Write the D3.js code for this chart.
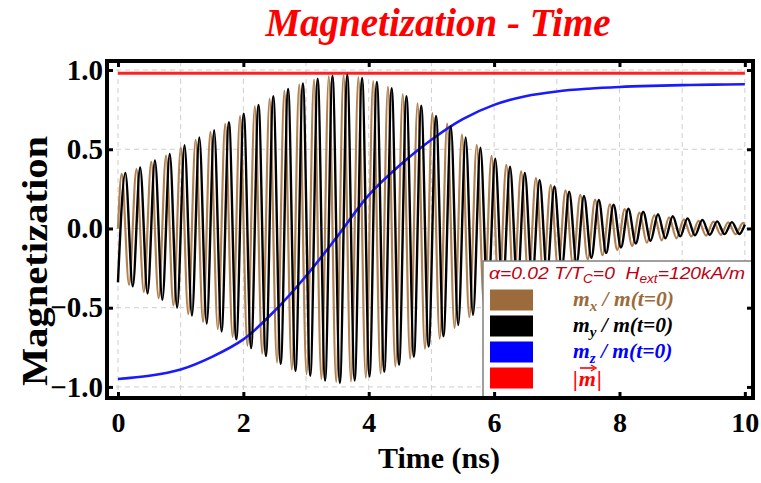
<!DOCTYPE html>
<html>
<head>
<meta charset="utf-8">
<script src="https://cdn.jsdelivr.net/npm/d3@7"></script>
<style>
  html, body { margin: 0; padding: 0; background: #fff; }
  svg { display: block; }
  text { white-space: pre; }
</style>
</head>
<body>
<svg id="chart" width="761" height="483"></svg>
<script>
// ---- data ----------------------------------------------------------
// Precession half-period (ns): extrema of m_y sit at k*halfPeriod,
// extrema of m_x sit a quarter period later.
const halfPeriod = 0.118;

// m_y / m(t=0): successive extrema (trough, peak, trough, ...)
const myExtrema = [
  -0.34, 0.35, -0.365, 0.385, -0.41, 0.43, -0.45, 0.47, -0.50, 0.525,
  -0.55, 0.575, -0.60, 0.62, -0.65, 0.67, -0.70, 0.725, -0.755, 0.78,
  -0.805, 0.835, -0.855, 0.88, -0.90, 0.915, -0.93, 0.945, -0.96, 0.965,
  -0.975, 0.97, -0.96, 0.95, -0.935, 0.925, -0.905, 0.885, -0.86, 0.835,
  -0.81, 0.775, -0.745, 0.71, -0.68, 0.645, -0.61, 0.575, -0.545, 0.51,
  -0.475, 0.44, -0.415, 0.39, -0.37, 0.35, -0.33, 0.305, -0.285, 0.265,
  -0.25, 0.232, -0.22, 0.205, -0.185, 0.18, -0.155, 0.15, -0.12, 0.125,
  -0.095, 0.105, -0.078, 0.09, -0.062, 0.077, -0.05, 0.064, -0.043, 0.054,
  -0.04, 0.045, -0.036, 0.04, -0.035
];
const myEnd = 0.025;

// m_x / m(t=0): starts at zero, then successive extrema (peak, trough, ...)
const mxStart = 0.0;
const mxExtrema = [
  0.345, -0.355, 0.375, -0.40, 0.42, -0.44, 0.46, -0.485, 0.51, -0.54,
  0.56, -0.59, 0.61, -0.635, 0.66, -0.685, 0.71, -0.74, 0.77, -0.79,
  0.82, -0.845, 0.87, -0.89, 0.91, -0.92, 0.94, -0.95, 0.962, -0.97,
  0.972, -0.965, 0.955, -0.942, 0.93, -0.915, 0.895, -0.87, 0.848, -0.822,
  0.79, -0.76, 0.728, -0.695, 0.662, -0.628, 0.592, -0.56, 0.528, -0.492,
  0.458, -0.428, 0.402, -0.38, 0.36, -0.34, 0.318, -0.295, 0.275, -0.258,
  0.24, -0.226, 0.212, -0.195, 0.182, -0.168, 0.152, -0.135, 0.122, -0.11,
  0.10, -0.09, 0.084, -0.075, 0.07, -0.062, 0.057, -0.05, 0.048, -0.045,
  0.043, -0.04, 0.038, -0.036, 0.035
];
const mxEnd = 0.03;

// m_z / m(t=0)
const mzTime  = [0, 0.5, 1, 1.5, 2, 2.5, 3, 3.5, 4, 4.5, 5, 5.5, 6, 6.5, 7, 7.5, 8, 8.5, 9, 9.5, 10];
const mzValue = [-0.95, -0.93, -0.89, -0.81, -0.70, -0.52, -0.30, -0.05, 0.21, 0.40, 0.56,
                 0.69, 0.78, 0.835, 0.865, 0.882, 0.893, 0.90, 0.905, 0.908, 0.91];

// |m|
const magTime  = [0, 10];
const magValue = [0.98, 0.98];

const xTicks = [0, 2, 4, 6, 8, 10];
const yTicks = [-1.0, -0.5, 0.0, 0.5, 1.0];
const xGrid = d3.range(0, 11, 1);
const yGrid = [-1.0, -0.5, 0.0, 0.5, 1.0];

const legendItems = [
  { sub: "x", color: "#9c6b3c" },
  { sub: "y", color: "#000000" },
  { sub: "z", color: "#0000ff" },
  { sub: null, color: "#ff0000" }
];

// ---- build point series -------------------------------------------
const tEnd = 10;
const mySeries = myExtrema.map((v, k) => [k * halfPeriod, v]);
mySeries.push([tEnd, myEnd]);
const mxSeries = [[0, mxStart]].concat(mxExtrema.map((v, k) => [(k + 0.5) * halfPeriod, v]));
mxSeries.push([tEnd, mxEnd]);
const mzSeries = mzTime.map((t, i) => [t, mzValue[i]]);
const magSeries = magTime.map((t, i) => [t, magValue[i]]);

// ---- layout ---------------------------------------------------------
const svg = d3.select("#chart");
const L = 107, R = 753, T = 61, B = 398;
const x = d3.scaleLinear().domain([-0.175, 10.13]).range([L, R]);
const y = d3.scaleLinear().domain([-1.07, 1.057]).range([B, T]);

const serif = "'Liberation Serif', 'Times New Roman', serif";

// title
svg.append("text")
  .attr("x", 438).attr("y", 36)
  .attr("text-anchor", "middle")
  .style("font-family", serif).style("font-size", "39px")
  .style("font-weight", "bold").style("font-style", "italic")
  .attr("fill", "#ff0000")
  .text("Magnetization - Time");

// grid
const grid = svg.append("g").attr("stroke", "#cfcfcf").attr("stroke-width", 1)
  .attr("stroke-dasharray", "5,4");
grid.selectAll(".gx").data(xGrid).join("line")
  .attr("x1", d => x(d)).attr("x2", d => x(d)).attr("y1", T).attr("y2", B);
grid.selectAll(".gy").data(yGrid).join("line")
  .attr("x1", L).attr("x2", R).attr("y1", d => y(d)).attr("y2", d => y(d));

// curves
const line = d3.line().x(d => x(d[0])).y(d => y(d[1]));
const osc = d3.line().x(d => x(d[0])).y(d => y(d[1])).curve(d3.curveMonotoneX);
const smooth = d3.line().x(d => x(d[0])).y(d => y(d[1])).curve(d3.curveCatmullRom.alpha(0.5));

svg.append("path").datum(magSeries).attr("d", line)
  .attr("fill", "none").attr("stroke", "#ff2020").attr("stroke-width", 3);
svg.append("path").datum(mxSeries).attr("d", osc)
  .attr("fill", "none").attr("stroke", "#b08050").attr("stroke-width", 2.2);
svg.append("path").datum(mzSeries).attr("d", smooth)
  .attr("fill", "none").attr("stroke", "#1a1aff").attr("stroke-width", 2.6);
svg.append("path").datum(mySeries).attr("d", osc)
  .attr("fill", "none").attr("stroke", "#000000").attr("stroke-width", 2.4);

// legend
const lg = svg.append("g");
const lgX = 483, lgY = 261;
lg.append("rect").attr("x", lgX).attr("y", lgY).attr("width", R - lgX).attr("height", B - lgY)
  .attr("fill", "#fff").attr("stroke", "#808080").attr("stroke-width", 1.5);

const head = lg.append("text").attr("x", 489).attr("y", 279)
  .attr("textLength", 256).attr("lengthAdjust", "spacingAndGlyphs")
  .style("font-family", "'Liberation Sans', Arial, sans-serif")
  .style("font-size", "17px").style("font-style", "italic")
  .attr("fill", "#c00010");
head.append("tspan").text("α=0.02 T/T");
head.append("tspan").attr("dy", 4).style("font-size", "12px").text("C");
head.append("tspan").attr("dy", -4).text("=0  H");
head.append("tspan").attr("dy", 4).style("font-size", "12px").text("ext");
head.append("tspan").attr("dy", -4).text("=120kA/m");

legendItems.forEach((it, i) => {
  const cy = 300 + i * 26;
  lg.append("rect").attr("x", 490).attr("y", cy - 10.5).attr("width", 43).attr("height", 21)
    .attr("fill", it.color);
  const bx = 573, by = cy + 6;
  if (it.sub) {
    const t = lg.append("text").attr("x", bx).attr("y", by)
      .style("font-family", serif).style("font-size", "21.5px")
      .style("font-weight", "bold").style("font-style", "italic")
      .attr("fill", it.color);
    t.append("tspan").text("m");
    t.append("tspan").attr("dy", 5).style("font-size", "15px").text(it.sub);
    t.append("tspan").attr("dy", -5).text(" / m(t=0)");
  } else {
    const g = lg.append("g");
    const st = s => g.append("text").attr("y", by + 2)
      .style("font-family", serif).style("font-size", "22px")
      .style("font-weight", "bold").style("font-style", "italic")
      .attr("fill", it.color).text(s);
    const a = st("|").attr("x", bx);
    const wa = a.node().getComputedTextLength();
    const m = st("m").attr("x", bx + wa + 1);
    const wm = m.node().getComputedTextLength();
    st("|").attr("x", bx + wa + 1 + wm + 1);
    const ay = by - 16, ax0 = bx + wa + 2, ax1 = bx + wa + wm + 1;
    g.append("line").attr("x1", ax0).attr("x2", ax1 - 2).attr("y1", ay).attr("y2", ay)
      .attr("stroke", it.color).attr("stroke-width", 1.6);
    g.append("path").attr("d", `M${ax1 - 5},${ay - 3} L${ax1},${ay} L${ax1 - 5},${ay + 3}`)
      .attr("fill", "none").attr("stroke", it.color).attr("stroke-width", 1.4);
  }
});

// frame
svg.append("rect").attr("x", L).attr("y", T).attr("width", R - L).attr("height", B - T)
  .attr("fill", "none").attr("stroke", "#000").attr("stroke-width", 4);

// axes (inward ticks on all four sides)
function styleAxis(g) {
  g.select(".domain").remove();
  g.selectAll(".tick line").attr("stroke", "#000").attr("stroke-width", 3);
}
const tickFont = g => g.selectAll("text")
  .style("font-family", serif).style("font-weight", "bold").attr("fill", "#000");

svg.append("g").attr("transform", `translate(0,${B})`)
  .call(d3.axisBottom(x).tickValues(xTicks).tickSize(-6).tickPadding(14).tickFormat(d3.format("d")))
  .call(styleAxis).call(tickFont)
  .call(g => g.selectAll("text").style("font-size", "28px"));
svg.append("g").attr("transform", `translate(0,${T})`)
  .call(d3.axisTop(x).tickValues(xTicks).tickSize(-6).tickFormat(""))
  .call(styleAxis);
svg.append("g").attr("transform", `translate(${L},0)`)
  .call(d3.axisLeft(y).tickValues(yTicks).tickSize(-6).tickPadding(4)
    .tickFormat(d => d3.format(".1f")(d).replace("-", "\u2212")))
  .call(styleAxis).call(tickFont)
  .call(g => g.selectAll("text").style("font-size", "29px"));
svg.append("g").attr("transform", `translate(${R},0)`)
  .call(d3.axisRight(y).tickValues(yTicks).tickSize(-6).tickFormat(""))
  .call(styleAxis);

// axis titles
svg.append("text")
  .attr("x", 439).attr("y", 468).attr("text-anchor", "middle")
  .style("font-family", serif).style("font-size", "30px").style("font-weight", "bold")
  .text("Time (ns)");
svg.append("text")
  .attr("transform", "translate(47,261) rotate(-90)")
  .attr("text-anchor", "middle")
  .attr("textLength", 250).attr("lengthAdjust", "spacingAndGlyphs")
  .style("font-family", serif).style("font-size", "35px").style("font-weight", "bold")
  .text("Magnetization");
</script>
</body>
</html>
